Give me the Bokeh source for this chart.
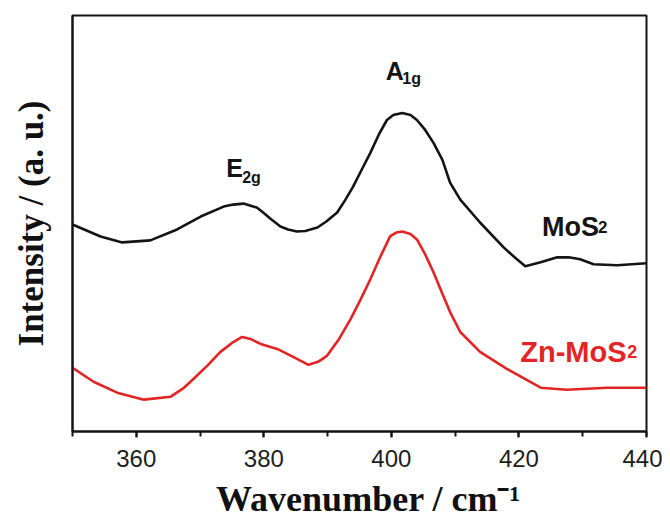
from bokeh.plotting import figure
from bokeh.models import FixedTicker, Label, Range1d
from bokeh.embed import file_html
from bokeh.resources import INLINE

# Raman spectra (arbitrary intensity units)
wn_mos2 = [350, 354.4, 357.8, 362.2, 366.4, 370.1, 373.7, 375.2, 376.8, 378.9,
           379.9, 381.0, 382.6, 383.8, 385.2, 386.5, 388.4, 389.8, 391.5, 392.8,
           394.0, 395.5, 396.7, 398.0, 399.3, 400.3, 401.7, 403.0, 404.0, 405.3,
           406.6, 408.0, 409.2, 410.8, 413.9, 417.6, 419.5, 421.0, 423.4, 426.0,
           427.8, 429.6, 431.7, 435.4, 440]
int_mos2 = [208, 196, 190, 192, 203, 216, 226, 228, 229, 225,
            220, 214, 206, 203, 201, 201.5, 205, 211, 220, 233,
            246, 265, 280, 298, 313, 318, 320, 318, 313, 303,
            290, 273, 250, 233, 210, 185, 174, 166, 170, 175,
            175, 173, 168, 167, 169]

wn_zn = [350, 353.3, 357.0, 361.2, 365.4, 367.3, 369.0, 371.1, 373.2, 375.0,
         376.6, 377.9, 379.5, 382.1, 384.6, 387.0, 388.5, 389.9, 391.8, 393.6,
         395.2, 396.7, 398.3, 399.8, 400.8, 401.7, 403.0, 404.0, 405.3, 406.6,
         407.9, 409.2, 410.8, 413.9, 418.1, 423.4, 427.5, 433.8, 440]
int_zn = [64, 50, 39, 32, 35, 43, 53, 66, 80, 89,
          95, 93, 88, 83, 75, 67, 70, 76, 93, 113,
          133, 153, 176, 196, 200, 201, 198.5, 193, 178, 160,
          140, 120, 100, 80, 63, 44, 42, 44, 44]

major_ticks = [360, 380, 400, 420, 440]
minor_ticks = [350, 360, 370, 380, 390, 400, 410, 420, 430, 440]

x_title = "\u00a0\u00a0Wavenumber / cm\u207b\u00b9"
y_title = "Intensity / (a. u.)"

BLACK = "#141414"
RED = "#e32424"

p = figure(width=662, height=521, x_range=Range1d(350, 440), y_range=Range1d(0, 418),
           output_backend="svg", toolbar_location=None,
           min_border_left=72, min_border_right=16, min_border_top=15, min_border_bottom=88)
p.grid.visible = False
p.outline_line_color = BLACK
p.outline_line_width = 2
p.background_fill_color = "white"
p.border_fill_color = "white"

p.line(wn_mos2, int_mos2, line_color=BLACK, line_width=2.6, line_join="round")
p.line(wn_zn, int_zn, line_color=RED, line_width=2.6, line_join="round")

xa = p.xaxis[0]
xa.ticker = FixedTicker(ticks=major_ticks, minor_ticks=minor_ticks)
xa.axis_line_color = BLACK
xa.axis_line_width = 2
xa.major_tick_in = 0
xa.major_tick_out = 6
xa.minor_tick_in = 0
xa.minor_tick_out = 5
xa.major_tick_line_width = 2
xa.minor_tick_line_width = 2
xa.major_tick_line_color = BLACK
xa.minor_tick_line_color = BLACK
xa.major_label_text_font = "Liberation Sans"
xa.major_label_text_font_size = "24px"
xa.major_label_text_color = "#1e1e1e"
xa.major_label_standoff = 12
xa.axis_label = x_title
xa.axis_label_text_font = "Liberation Serif"
xa.axis_label_text_font_style = "bold"
xa.axis_label_text_font_size = "36px"
xa.axis_label_text_color = "#111111"
xa.axis_label_standoff = 9

ya = p.yaxis[0]
ya.ticker = FixedTicker(ticks=[])
ya.axis_line_color = BLACK
ya.axis_line_width = 2
ya.major_tick_line_color = None
ya.minor_tick_line_color = None
ya.axis_label = y_title
ya.axis_label_text_font = "Liberation Serif"
ya.axis_label_text_font_style = "bold"
ya.axis_label_text_font_size = "35px"
ya.axis_label_text_color = "#111111"
ya.axis_label_standoff = 22

def lab(x, y, text, size, color=BLACK):
    p.add_layout(Label(x=x, y=y, text=text, text_font="Liberation Sans",
                       text_font_style="bold", text_font_size=size,
                       text_color=color, text_align="left", text_baseline="alphabetic"))

lab(374.1, 265, "E", "25px")
lab(376.6, 255, "2g", "16px")
lab(399.1, 362, "A", "25px")
lab(401.7, 355, "1g", "16px")
lab(423.6, 205, "MoS", "27px")
lab(432.4, 205, "2", "17px")
lab(420.2, 80, "Zn-MoS", "29px", RED)
lab(437.0, 80, "2", "18px", RED)

open("out.html", "w").write(file_html(p, INLINE))
